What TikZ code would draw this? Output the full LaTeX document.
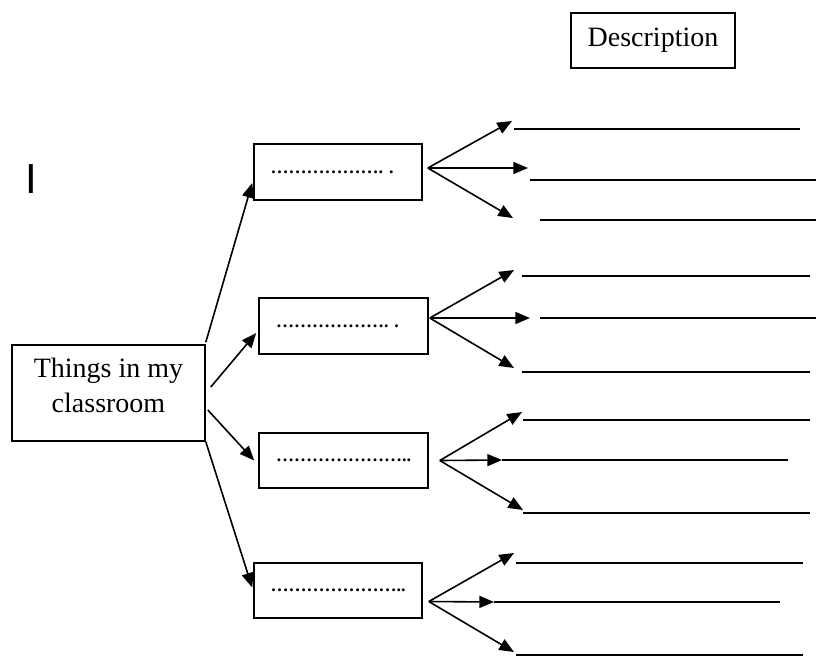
\documentclass[tikz,border=0pt]{standalone}
\usepackage{fontspec}
\setmainfont{Liberation Serif}
\newfontfamily\barfont{Liberation Sans}
\usetikzlibrary{arrows.meta,calc}
\newcommand\ellip{\symbol{"2026}}
\newcommand\sixel{\ellip\ellip\ellip\ellip\ellip\ellip}
\begin{document}
\begin{tikzpicture}[x=0.75pt,y=-0.75pt,
  box/.style={draw, line width=1.2pt, inner sep=0pt},
  bigtext/.style={font=\fontsize{21}{26.25}\selectfont},
  dots/.style={font=\bfseries\fontsize{13.5}{16}\selectfont},
  link/.style={line width=1.2pt, -{Triangle[length=11pt,width=9pt]}},
  blank/.style={line width=1.2pt}]
\useasboundingbox (0,0) rectangle (816,657);

% heading box
\node[box, bigtext, minimum width=123pt, minimum height=41.25pt] (desc) at (653,40.5) {Description};

% stray letter at the left margin
\node[font=\barfont\fontsize{31.5}{36}\selectfont, anchor=base, inner sep=0pt] (mark) at (31,193) {I};

% central box
\node[box, bigtext, align=center, minimum width=144.75pt, minimum height=72pt] (main) at (108.5,393)
  {Things in my\\classroom\rule[-12pt]{0pt}{12pt}};

% the four category boxes
\node[box, dots, minimum width=126pt, minimum height=42pt] (b1) at (338,172) {\sixel. .\kern9pt};
\node[box, dots, minimum width=126.75pt, minimum height=42pt] (b2) at (343.5,326) {\sixel. .\kern9pt};
\node[box, dots, minimum width=126.75pt, minimum height=41.25pt] (b3) at (343.5,460.5) {\sixel\ellip..};
\node[box, dots, minimum width=126pt, minimum height=41.25pt] (b4) at (338,590.5) {\sixel\ellip..};

% links from the central box
\draw[link] ($(main.north east)+(0,-2)$) -- ($(b1.west)+(-1,11)$);
\draw[link] ($(main.east)+(5,-6)$) -- ($(b2.west)+(-2,7)$);
\draw[link] ($(main.east)+(2,17)$) -- ($(b3.west)+(-4,0)$);
\draw[link] (main.south east) -- ($(b4.west)+(-1,-3)$);

% fan origins
\coordinate (o1) at ($(b1.east)+(5,-4)$);
\coordinate (o2) at ($(b2.east)+(1,-8)$);
\coordinate (o3) at ($(b3.east)+(11,0)$);
\coordinate (o4) at ($(b4.east)+(6,11)$);

% arrow tips
\coordinate (t1a) at (512,121); \coordinate (t1b) at (528,168); \coordinate (t1c) at (513,218);
\coordinate (t2a) at (514,270); \coordinate (t2b) at (530,318); \coordinate (t2c) at (514,368);
\coordinate (t3a) at (522,412); \coordinate (t3b) at (502,460); \coordinate (t3c) at (523,510);
\coordinate (t4a) at (514,553); \coordinate (t4b) at (494,602); \coordinate (t4c) at (514,652);

\foreach \g in {1,2,3,4}{
  \foreach \k in {a,b,c}{
    \draw[link] (o\g) -- (t\g\k);
  }
}

% write-in lines
\draw[blank] (514,129) -- (800,129);
\draw[blank] (530,180) -- (816,180);
\draw[blank] (540,220) -- (816,220);

\draw[blank] (522,276) -- (810,276);
\draw[blank] (540,318) -- (816,318);
\draw[blank] (522,372) -- (810,372);

\draw[blank] (523,420) -- (810,420);
\draw[blank] (502,460) -- (788,460);
\draw[blank] (523,513) -- (810,513);

\draw[blank] (516,563) -- (803,563);
\draw[blank] (494,602) -- (780,602);
\draw[blank] (516,655) -- (803,655);
\end{tikzpicture}
\end{document}
